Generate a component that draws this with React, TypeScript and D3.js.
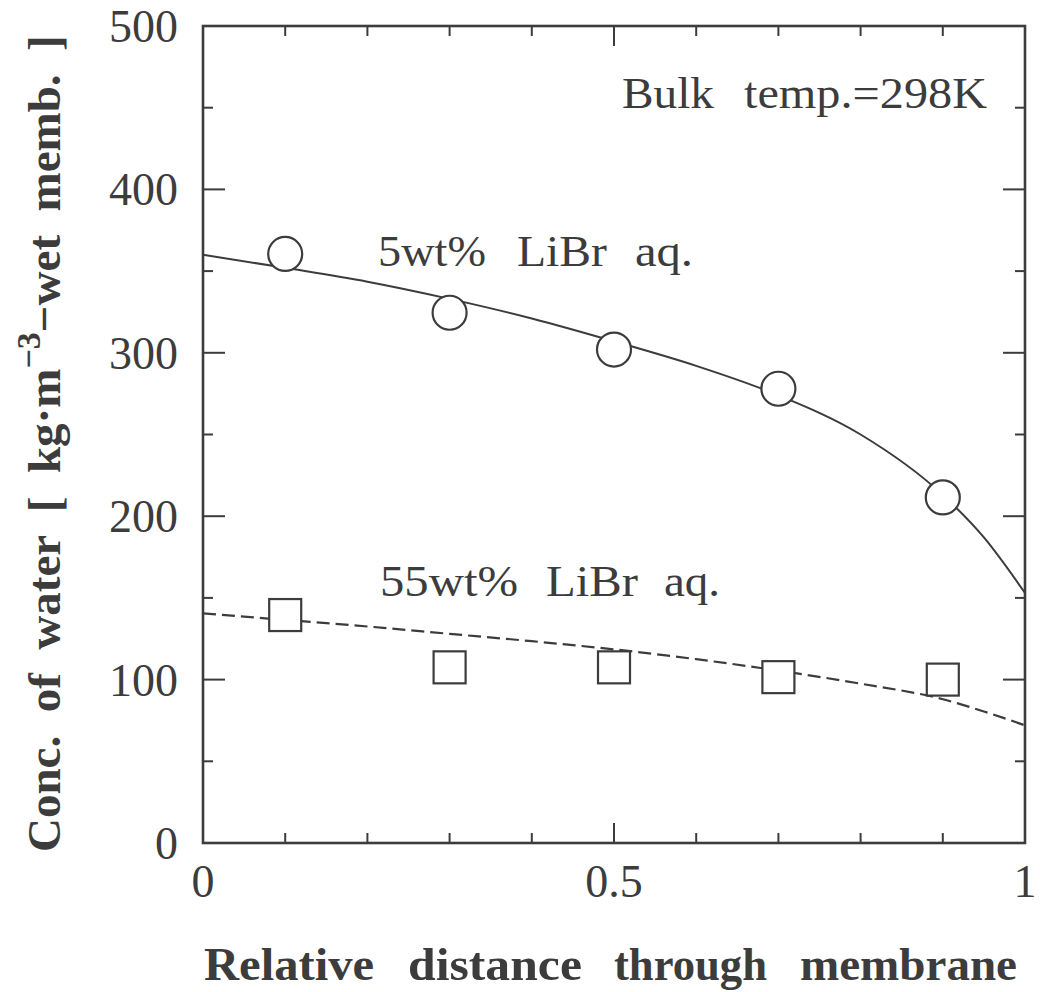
import React from "react";
import * as d3 from "d3";

const circleX = [0.1, 0.3, 0.5, 0.7, 0.9];
const circleY = [360.5, 324.5, 302, 278, 211.5];
const squareX = [0.1, 0.3, 0.5, 0.7, 0.9];
const squareY = [139.5, 107.5, 107.5, 101.5, 100];

const fitX = [0, 0.1, 0.2, 0.3, 0.4, 0.5, 0.6, 0.7, 0.8, 0.9, 0.95, 1.0];
const fit5 = [360, 352, 343.5, 333, 321, 307, 292, 274, 250, 213, 187, 153];
const fit55 = [140.5, 136.5, 132.5, 128, 123.5, 118.5, 112.5, 105.5, 97.5, 88, 80.5, 72];

const xMajor = [0, 0.5, 1];
const xMinor = [0.1, 0.2, 0.3, 0.4, 0.6, 0.7, 0.8, 0.9];
const yMajor = [0, 100, 200, 300, 400, 500];
const yMinor = [50, 150, 250, 350, 450];

const ink = "#3c3c3c";

type Word = { t: string; x: number; w: number };
const bulkWords: Word[] = [
  { t: "Bulk", x: 622, w: 92 },
  { t: "temp.=298K", x: 744, w: 243 },
];
const lab5Words: Word[] = [
  { t: "5wt%", x: 378, w: 108 },
  { t: "LiBr", x: 517, w: 90 },
  { t: "aq.", x: 635, w: 58 },
];
const lab55Words: Word[] = [
  { t: "55wt%", x: 380, w: 138 },
  { t: "LiBr", x: 546, w: 92 },
  { t: "aq.", x: 664, w: 56 },
];
const xTitleWords: Word[] = [
  { t: "Relative", x: 204, w: 170 },
  { t: "distance", x: 408, w: 174 },
  { t: "through", x: 614, w: 153 },
  { t: "membrane", x: 800, w: 217 },
];

function Words({ words, y, size, bold }: { words: Word[]; y: number; size: number; bold?: boolean }) {
  return (
    <g fill={ink} fontSize={size} fontWeight={bold ? "bold" : "normal"}>
      {words.map((w) => (
        <text key={w.t + w.x} x={w.x} y={y} textLength={w.w} lengthAdjust="spacingAndGlyphs">
          {w.t}
        </text>
      ))}
    </g>
  );
}

export default function App() {
  const L = 203, R = 1025, T = 26, B = 843;
  const x = d3.scaleLinear().domain([0, 1]).range([L, R]);
  const y = d3.scaleLinear().domain([0, 500]).range([B, T]);
  const line = d3
    .line<[number, number]>()
    .x((d) => x(d[0]))
    .y((d) => y(d[1]))
    .curve(d3.curveMonotoneX);
  const d5 = line(fitX.map((v, i) => [v, fit5[i]] as [number, number])) || "";
  const d55 = line(fitX.map((v, i) => [v, fit55[i]] as [number, number])) || "";
  const serif = "'Liberation Serif', 'Times New Roman', serif";

  return (
    <svg
      width={1040}
      height={992}
      style={{ position: "absolute", left: 0, top: 0, background: "#fff" }}
      fontFamily={serif}
    >
      <rect x={0} y={0} width={1040} height={992} fill="#fff" />
      {/* ticks */}
      <g stroke={ink} strokeWidth={2}>
        {xMajor.slice(1, 2).map((v) => (
          <g key={"xM" + v}>
            <line x1={x(v)} x2={x(v)} y1={B} y2={B - 20} />
            <line x1={x(v)} x2={x(v)} y1={T} y2={T + 20} />
          </g>
        ))}
        {xMinor.map((v) => (
          <g key={"xm" + v}>
            <line x1={x(v)} x2={x(v)} y1={B} y2={B - 10} />
            <line x1={x(v)} x2={x(v)} y1={T} y2={T + 10} />
          </g>
        ))}
        {yMajor.slice(1, 5).map((v) => (
          <g key={"yM" + v}>
            <line x1={L} x2={L + 22} y1={y(v)} y2={y(v)} />
            <line x1={R} x2={R - 22} y1={y(v)} y2={y(v)} />
          </g>
        ))}
        {yMinor.map((v) => (
          <g key={"ym" + v}>
            <line x1={L} x2={L + 10} y1={y(v)} y2={y(v)} />
            <line x1={R} x2={R - 10} y1={y(v)} y2={y(v)} />
          </g>
        ))}
      </g>
      {/* frame */}
      <rect x={L} y={T} width={R - L} height={B - T} fill="none" stroke={ink} strokeWidth={2.6} />

      {/* tick labels */}
      <g fill={ink} fontSize={46}>
        {yMajor.map((v) => (
          <text key={"yl" + v} x={178} y={y(v) + 16} textAnchor="end">
            {v}
          </text>
        ))}
        {xMajor.map((v) => (
          <text key={"xl" + v} x={x(v)} y={897} textAnchor="middle">
            {v}
          </text>
        ))}
      </g>

      {/* fitted curves */}
      <path d={d5} fill="none" stroke={ink} strokeWidth={2} />
      <path d={d55} fill="none" stroke={ink} strokeWidth={2.2} strokeDasharray="13 6" />

      {/* markers */}
      {circleX.map((v, i) => (
        <circle key={"c" + i} cx={x(v)} cy={y(circleY[i])} r={17} fill="#fff" stroke={ink} strokeWidth={2.2} />
      ))}
      {squareX.map((v, i) => (
        <rect
          key={"s" + i}
          x={x(v) - 16}
          y={y(squareY[i]) - 16}
          width={32}
          height={32}
          fill="#fff"
          stroke={ink}
          strokeWidth={2.2}
        />
      ))}

      {/* annotations */}
      <Words words={bulkWords} y={108} size={44} />
      <Words words={lab5Words} y={266} size={44} />
      <Words words={lab55Words} y={596} size={44} />

      {/* axis titles */}
      <Words words={xTitleWords} y={980} size={47} bold />
      <text
        transform="translate(60,852) rotate(-90)"
        fill={ink}
        fontSize={47}
        fontWeight="bold"
        style={{ whiteSpace: "pre" }}
      >
        <tspan>{"Conc.  of  water  [  kg·m"}</tspan>
        <tspan dy={-20} fontSize={34}>{"−3"}</tspan>
        <tspan dy={20}>{"−wet  memb.  ]"}</tspan>
      </text>
    </svg>
  );
}
